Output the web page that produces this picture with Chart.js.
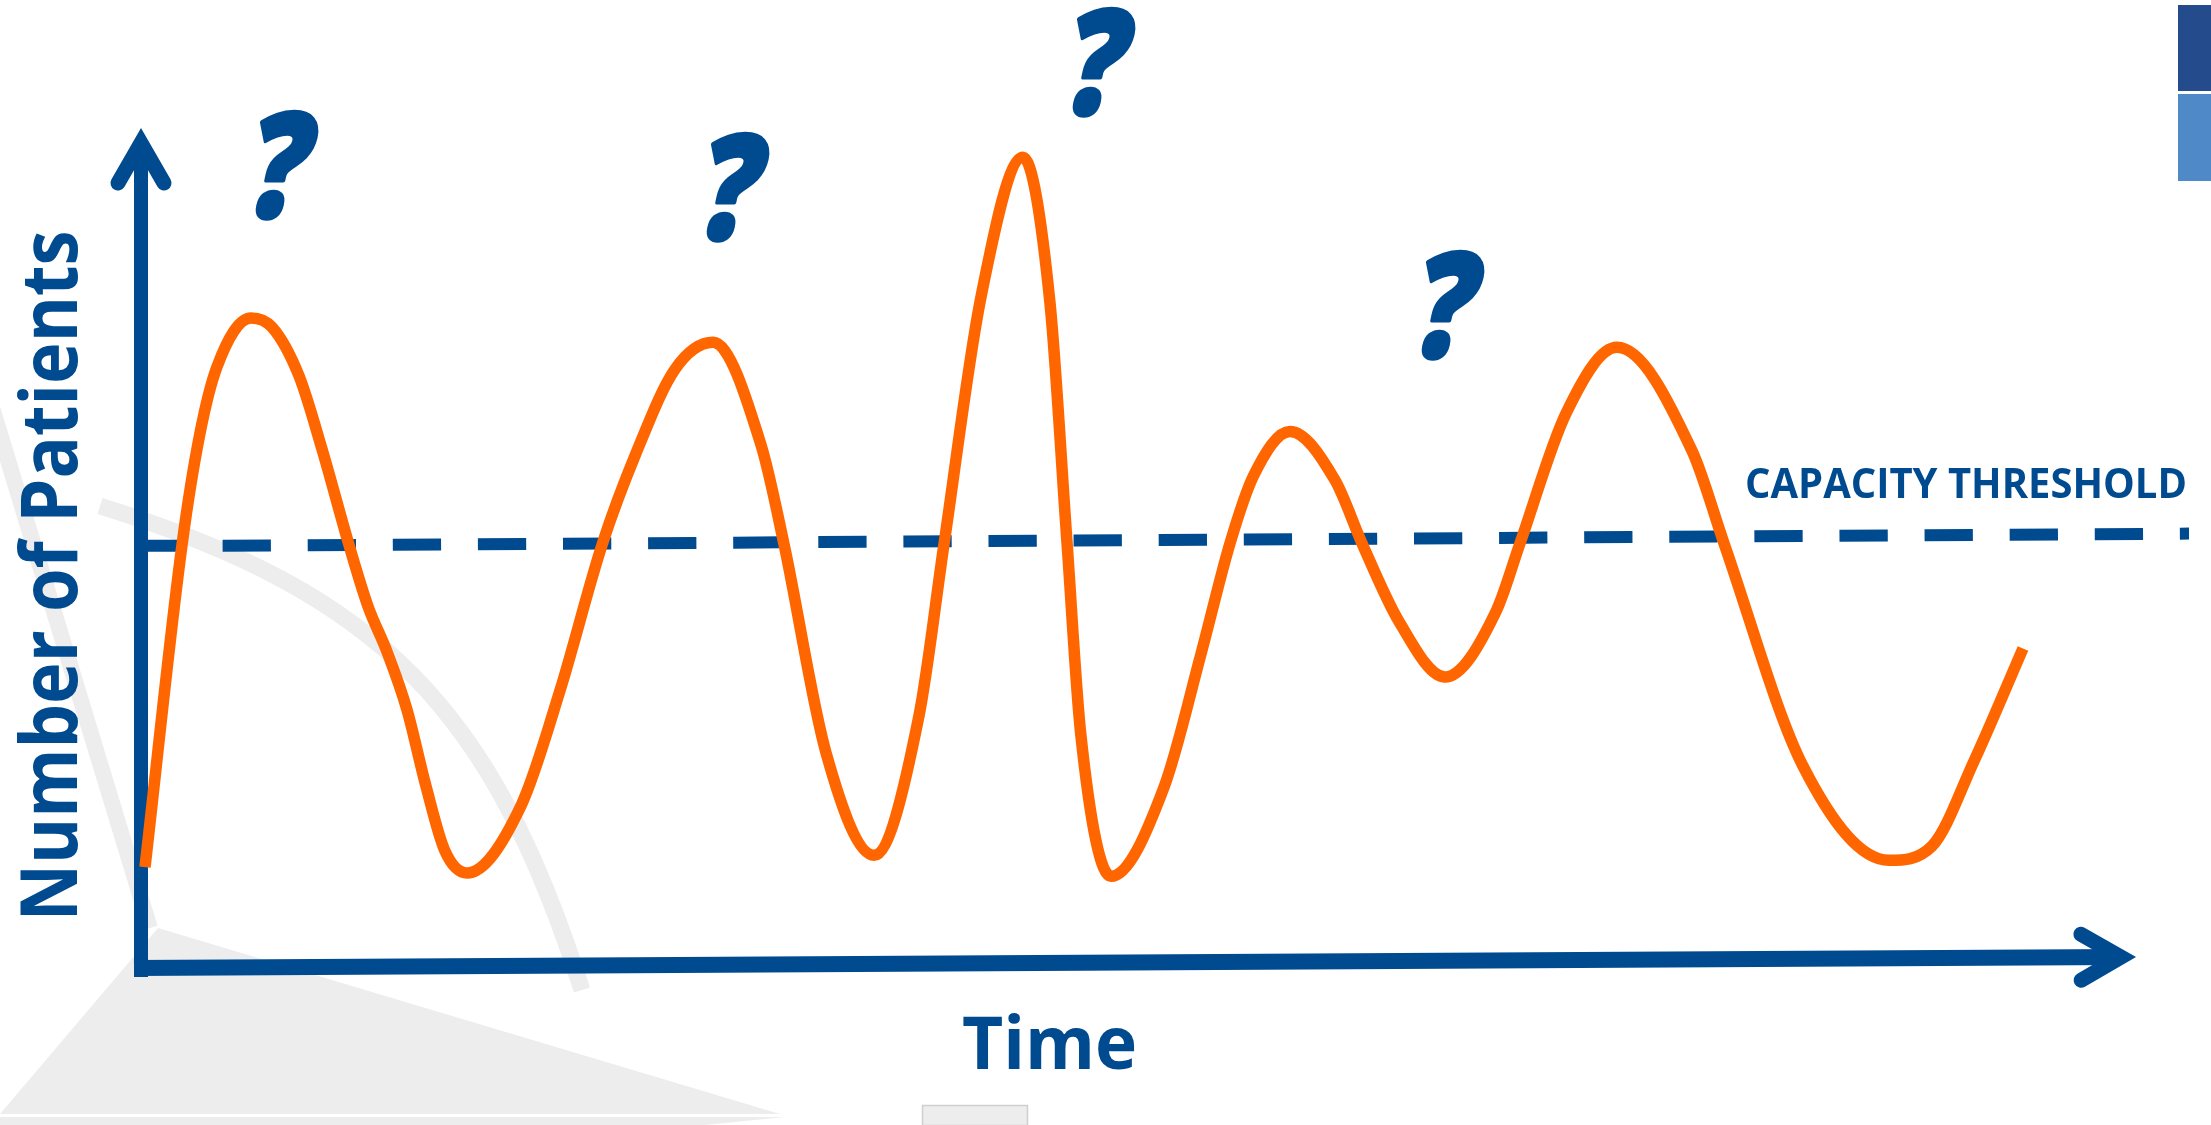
<!DOCTYPE html>
<html>
<head>
<meta charset="utf-8">
<script src="https://cdn.jsdelivr.net/npm/chart.js@4.4.1/dist/chart.umd.min.js"></script>
<style>
  html, body { margin: 0; padding: 0; background: #fff; }
  canvas { display: block; }
</style>
</head>
<body>
<canvas id="grafico" width="2211" height="1125"></canvas>
<script>
// Curva de pacientes ao longo do tempo (unidades arbitrárias, eixo 0-100)
const tempo = [0.2, 2.05, 2.95, 3.8, 5.5, 6.55, 7.9, 9.05, 10.4, 11.35, 12.3, 13.3, 14.25, 15.2, 16.3,
  19.0, 20.95, 23.05, 24.75, 26.7, 28.6, 31.0, 32.15, 34.25, 36.65,
  38.9, 40.15, 42.0, 44.1, 45.44, 46.3, 46.98, 48.5,
  51.15, 53.0, 54.45, 55.62, 57.45, 59.7, 61.05, 62.9, 65.2,
  67.75, 68.95, 71.26, 73.8, 77.55, 79.15, 83.1, 87.4,
  89.55, 91.65, 94.1];
const pacientes = [12.0, 50.3, 63.6, 71.5, 77.3, 76.2, 70.4, 61.7, 50.3, 43.0, 37.6, 30.7, 21.6, 13.9, 11.3,
  19.3, 33.0, 50.3, 61.2, 71.2, 74.4, 62.2, 50.4, 25.6, 13.4,
  30.0, 50.4, 79.8, 96.4, 79.3, 50.6, 28.0, 10.9,
  21.5, 37.35, 50.5, 58.5, 63.8, 58.0, 50.5, 41.2, 34.6,
  42.4, 50.5, 66.0, 73.8, 61.5, 50.5, 24.0, 12.8,
  14.5, 24.6, 38.0];

// Limite de capacidade (linha tracejada, levemente inclinada)
const limiteTempo = [4.08, 102.4];
const limiteNivel = [50.2, 51.65];

// Pontos de interrogação sobre os picos
const interrogTempo = [7.0, 29.55, 47.85, 65.3];
const interrogNivel = [95.4, 92.75, 107.7, 78.8];

const AZUL = '#004A8F';
const LARANJA = '#FF6600';
const CINZA = '#EDEDED';
const FONTE = '"Open Sans", "Noto Sans", sans-serif';

// texto ajustado a uma caixa (centro, largura, altura)
function textoAjustado(ctx, texto, cx, cy, w, h, estilo, rot, incl, contorno) {
  ctx.save();
  ctx.font = `${estilo} 100px ${FONTE}`;
  let m = ctx.measureText(texto);
  const tam = 100 * h / (m.actualBoundingBoxAscent + m.actualBoundingBoxDescent);
  ctx.font = `${estilo} ${tam}px ${FONTE}`;
  m = ctx.measureText(texto);
  const wr = m.actualBoundingBoxLeft + m.actualBoundingBoxRight;
  ctx.translate(cx, cy);
  if (rot) ctx.rotate(rot);
  if (incl) ctx.transform(1, 0, -incl, 1, 0, 0);
  ctx.scale(w ? w / wr : 1, 1);
  ctx.textAlign = 'left';
  ctx.textBaseline = 'alphabetic';
  ctx.fillStyle = AZUL;
  const tx = (m.actualBoundingBoxLeft - m.actualBoundingBoxRight) / 2;
  const ty = (m.actualBoundingBoxAscent - m.actualBoundingBoxDescent) / 2;
  ctx.fillText(texto, tx, ty);
  if (contorno) {
    ctx.strokeStyle = AZUL;
    ctx.lineWidth = contorno;
    ctx.lineJoin = 'round';
    ctx.strokeText(texto, tx, ty);
  }
  ctx.restore();
}

function seta(ctx, px, py, dx, dy) {
  const recuo = 40, abertura = 23;
  const nx = -dy, ny = dx;
  ctx.beginPath();
  ctx.moveTo(px - dx * recuo + nx * abertura, py - dy * recuo + ny * abertura);
  ctx.lineTo(px, py);
  ctx.lineTo(px - dx * recuo - nx * abertura, py - dy * recuo - ny * abertura);
  ctx.stroke();
}

const fundo = {
  id: 'fundo',
  beforeDatasetsDraw(chart) {
    const ctx = chart.ctx;
    const x = chart.scales.x, y = chart.scales.y;
    ctx.save();
    // formas cinzentas decorativas
    ctx.fillStyle = CINZA;
    ctx.strokeStyle = CINZA;
    ctx.beginPath();
    ctx.moveTo(0, 1114); ctx.lineTo(158, 928); ctx.lineTo(780, 1114); ctx.closePath();
    ctx.fill();
    ctx.beginPath();
    ctx.moveTo(0, 1117); ctx.lineTo(785, 1117); ctx.lineTo(705, 1125); ctx.lineTo(0, 1125); ctx.closePath();
    ctx.fill();
    ctx.lineWidth = 16;
    ctx.beginPath();
    ctx.moveTo(-30, 335); ctx.lineTo(150, 928);
    ctx.stroke();
    ctx.lineWidth = 17;
    ctx.beginPath();
    ctx.moveTo(100, 506);
    ctx.bezierCurveTo(380, 593, 492, 708, 582, 990);
    ctx.stroke();
    ctx.fillRect(922, 1105, 106, 20);
    ctx.strokeStyle = '#CFCFCF';
    ctx.lineWidth = 1.5;
    ctx.strokeRect(922.5, 1105.5, 105, 20);
    // blocos azuis no canto
    ctx.fillStyle = '#244B8C';
    ctx.fillRect(2178, 5, 33, 86);
    ctx.fillStyle = '#4F89C7';
    ctx.fillRect(2178, 94, 33, 87);

    // eixos
    const x0 = x.getPixelForValue(0), y0 = y.getPixelForValue(0);
    ctx.strokeStyle = AZUL;
    ctx.lineCap = 'butt';
    ctx.lineWidth = 14;
    const topo = y.getPixelForValue(100) + 16;
    ctx.beginPath();
    ctx.moveTo(x0, y0 + 9); ctx.lineTo(x0, topo);
    ctx.stroke();
    ctx.lineWidth = 16;
    const fx = x.getPixelForValue(99.8) - 16, fy = y.getPixelForValue(1.3);
    ctx.beginPath();
    ctx.moveTo(x0 - 7, y0); ctx.lineTo(fx, fy);
    ctx.stroke();
    ctx.lineWidth = 15;
    ctx.lineCap = 'round';
    ctx.lineJoin = 'miter';
    ctx.miterLimit = 10;
    seta(ctx, x0, topo, 0, -1);
    seta(ctx, fx, fy, 1, -0.0055);
    // marca do limite no eixo vertical
    ctx.lineCap = 'butt';
    ctx.lineWidth = 12;
    const ly = y.getPixelForValue(limiteNivel[0]);
    ctx.beginPath();
    ctx.moveTo(x0, ly); ctx.lineTo(x0 + 37.5, ly);
    ctx.stroke();
    ctx.restore();
  },
  afterDraw(chart) {
    const ctx = chart.ctx;
    const x = chart.scales.x, y = chart.scales.y;
    textoAjustado(ctx, 'Number of Patients', 47.5, 574, 682, 61, 'bold', -Math.PI / 2, 0, 0);
    textoAjustado(ctx, 'Time', 1049, 1041.5, 172, 57, 'bold', 0, 0, 0);
    textoAjustado(ctx, 'CAPACITY THRESHOLD', 1966, 483, 438, 30, 'bold', 0, 0, 0);
    interrogTempo.forEach((t, i) => {
      textoAjustado(ctx, '?', x.getPixelForValue(t), y.getPixelForValue(interrogNivel[i]),
        58, 106, '800', 0, 0.22, 4);
    });
  }
};

new Chart(document.getElementById('grafico'), {
  type: 'line',
  data: {
    datasets: [
      {
        label: 'Pacientes',
        data: tempo.map((t, i) => ({ x: t, y: pacientes[i] })),
        borderColor: LARANJA,
        borderWidth: 11.5,
        cubicInterpolationMode: 'monotone',
        pointRadius: 0,
        fill: false,
        clip: false
      },
      {
        label: 'Capacity threshold',
        data: limiteTempo.map((t, i) => ({ x: t, y: limiteNivel[i] })),
        borderColor: AZUL,
        borderWidth: 12,
        borderDash: [48.3, 36.8],
        pointRadius: 0,
        fill: false,
        clip: false
      }
    ]
  },
  options: {
    responsive: false,
    animation: false,
    devicePixelRatio: 1,
    layout: { padding: { left: 141, right: 0, top: 127, bottom: 157 } },
    scales: {
      x: { type: 'linear', display: false, min: 0, max: 103.5 },
      y: { type: 'linear', display: false, min: 0, max: 100 }
    },
    plugins: {
      legend: { display: false },
      tooltip: { enabled: false }
    }
  },
  plugins: [fundo]
});
</script>
</body>
</html>
